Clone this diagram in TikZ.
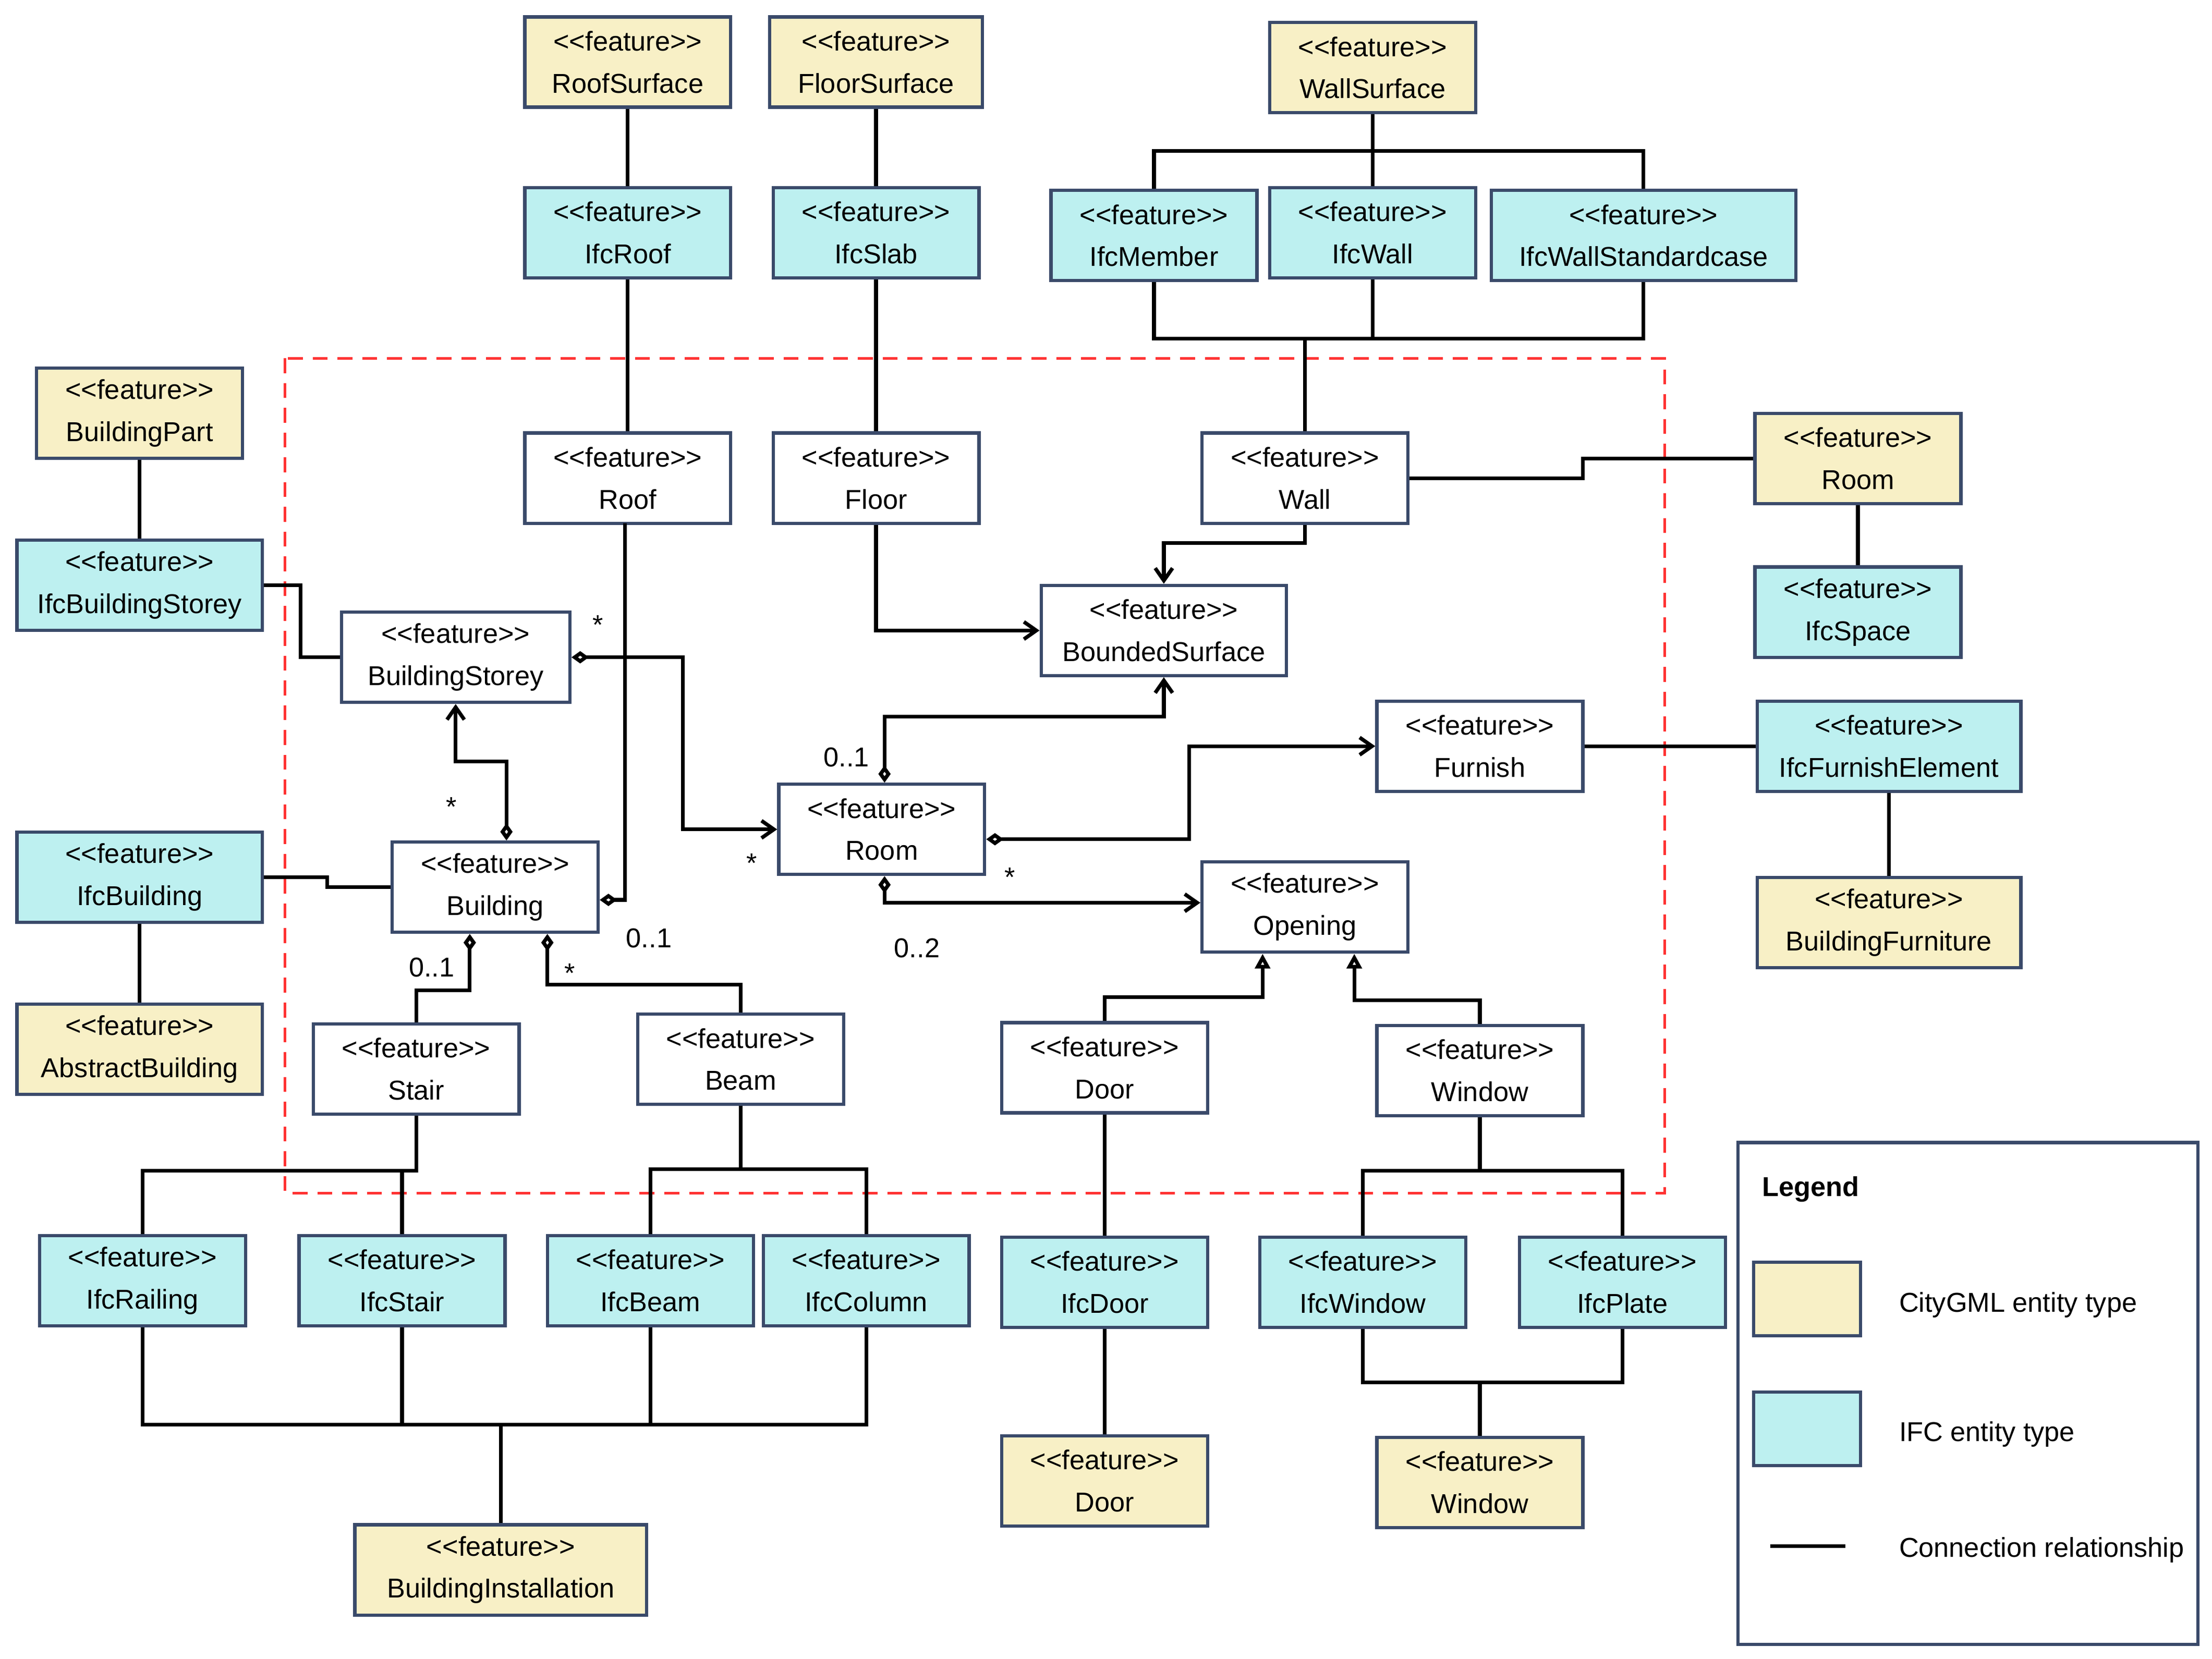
\documentclass[tikz,border=0pt]{standalone}
\usepackage{fontspec}
\setmainfont{Liberation Sans}
\usetikzlibrary{arrows.meta,calc}
\definecolor{cgy}{HTML}{F8F0C6}
\definecolor{ifc}{HTML}{BDF0F0}
\definecolor{bd}{HTML}{3A4A6A}
\tikzset{
 dia/.tip={Diamond[open,length=7pt,width=5pt]},
 nv/.tip={Straight Barb[length=5pt,width=7pt]},
 bx/.style={draw=bd,line width=1.3pt,minimum height=1.28cm,minimum width=2.92cm,align=center,inner sep=1pt,font=\fontsize{11}{17}\selectfont},
 cg/.style={bx,fill=cgy},
 ic/.style={bx,fill=ifc},
 wt/.style={bx,fill=white},
 ln/.style={line width=1.5pt,black},
 nav/.style={ln,-{nv}},
 dnav/.style={ln,{dia}-{nv}},
 dln/.style={ln,{dia}-},
 gen/.style={ln,-{Triangle[open,length=6pt,width=6pt]}},
 lb/.style={font=\fontsize{11}{13}\selectfont}
}
\newcommand{\ft}[1]{<{}<feature>{}>\\#1}
\begin{document}
\begin{tikzpicture}[x=0.02cm,y=-0.02cm]
\useasboundingbox (0,0) rectangle (1568,1176);
\draw[red!80,line width=1pt,dash pattern=on 6pt off 4pt] (202,254) rectangle (1180,846);
% CityGML
\node[cg] (RoofSurface) at (445,44) {\ft{RoofSurface}};
\node[cg,minimum width=3.02cm] (FloorSurface) at (621,44) {\ft{FloorSurface}};
\node[cg] (WallSurface) at (973,48) {\ft{WallSurface}};
\node[cg] (BuildingPart) at (99,293) {\ft{BuildingPart}};
\node[cg] (RoomY) at (1317,325) {\ft{Room}};
\node[cg,minimum width=3.74cm] (BuildingFurniture) at (1339,654) {\ft{BuildingFurniture}};
\node[cg,minimum width=3.48cm] (AbstractBuilding) at (99,744) {\ft{AbstractBuilding}};
\node[cg] (DoorY) at (783,1050) {\ft{Door}};
\node[cg] (WindowY) at (1049,1051) {\ft{Window}};
\node[cg,minimum width=4.14cm] (BuildingInstallation) at (355,1113) {\ft{BuildingInstallation}};
% IFC
\node[ic] (IfcRoof) at (445,165) {\ft{IfcRoof}};
\node[ic] (IfcSlab) at (621,165) {\ft{IfcSlab}};
\node[ic] (IfcMember) at (818,167) {\ft{IfcMember}};
\node[ic] (IfcWall) at (973,165) {\ft{IfcWall}};
\node[ic,minimum width=4.32cm] (IfcWallStandardcase) at (1165,167) {\ft{IfcWallStandardcase}};
\node[ic,minimum width=3.48cm] (IfcBuildingStorey) at (99,415) {\ft{IfcBuildingStorey}};
\node[ic] (IfcSpace) at (1317,434) {\ft{IfcSpace}};
\node[ic,minimum width=3.74cm] (IfcFurnishElement) at (1339,529) {\ft{IfcFurnishElement}};
\node[ic,minimum width=3.48cm] (IfcBuilding) at (99,622) {\ft{IfcBuilding}};
\node[ic] (IfcRailing) at (101,908) {\ft{IfcRailing}};
\node[ic] (IfcStair) at (285,908) {\ft{IfcStair}};
\node[ic] (IfcBeam) at (461,908) {\ft{IfcBeam}};
\node[ic] (IfcColumn) at (614,908) {\ft{IfcColumn}};
\node[ic] (IfcDoor) at (783,909) {\ft{IfcDoor}};
\node[ic] (IfcWindow) at (966,909) {\ft{IfcWindow}};
\node[ic] (IfcPlate) at (1150,909) {\ft{IfcPlate}};
% CityGML classes (white)
\node[wt] (Roof) at (445,339) {\ft{Roof}};
\node[wt] (Floor) at (621,339) {\ft{Floor}};
\node[wt] (Wall) at (925,339) {\ft{Wall}};
\node[wt,minimum width=3.48cm] (BoundedSurface) at (825,447) {\ft{BoundedSurface}};
\node[wt,minimum width=3.24cm] (BuildingStorey) at (323,466) {\ft{BuildingStorey}};
\node[wt] (Furnish) at (1049,529) {\ft{Furnish}};
\node[wt] (Room) at (625,588) {\ft{Room}};
\node[wt] (Building) at (351,629) {\ft{Building}};
\node[wt] (Opening) at (925,643) {\ft{Opening}};
\node[wt] (Stair) at (295,758) {\ft{Stair}};
\node[wt] (Beam) at (525,751) {\ft{Beam}};
\node[wt] (Door) at (783,757) {\ft{Door}};
\node[wt] (Window) at (1049,759) {\ft{Window}};
% legend
\node[draw=bd,line width=1.3pt,minimum width=6.52cm,minimum height=7.12cm] (Legend) at (1395,988) {};
\node[font=\bfseries\fontsize{11}{13}\selectfont,anchor=west] (LegT) at (1243,843) {Legend};
\node[draw=bd,line width=1.3pt,fill=cgy,minimum width=1.52cm,minimum height=1.04cm] (LegY) at (1281,921) {};
\node[draw=bd,line width=1.3pt,fill=ifc,minimum width=1.52cm,minimum height=1.04cm] (LegC) at (1281,1013) {};
\coordinate (LA) at (1255,1096); \coordinate (LB) at (1308,1096);
\draw[ln] (LA) -- (LB);
\node[lb,anchor=west] (LT1) at (1340,925) {CityGML entity type};
\node[lb,anchor=west] (LT2) at (1340,1017) {IFC entity type};
\node[lb,anchor=west] (LT3) at (1340,1099) {Connection relationship};
% connections
\draw[ln] (RoofSurface) -- (IfcRoof);
\draw[ln] (IfcRoof) -- (Roof);
\draw[dln] (Building.east |- 0,638) -- (443,638) -- (443,371) -- (Roof.south -| 443,0);
\draw[ln] (FloorSurface) -- (IfcSlab) -- (Floor);
\draw[nav] (Floor.south) -- (621,447) -- (BoundedSurface.west);
\draw[ln] (WallSurface.south) -- (973,107) -- (IfcWall.north);
\draw[ln] (IfcMember.north) -- (818,107) -- (1165,107) -- (IfcWallStandardcase.north);
\draw[ln] (IfcMember.south) -- (818,240) -- (1165,240) -- (IfcWallStandardcase.south);
\draw[ln] (IfcWall.south) -- (973,240);
\draw[ln] (925,240) -- (Wall.north);
\draw[ln] (Wall.east) -- (1122,339) -- (1122,325) -- (RoomY.west);
\draw[nav] (Wall.south) -- (925,385) -- (825,385) -- (BoundedSurface.north);
\draw[ln] (RoomY) -- (IfcSpace);
\draw[ln] (BuildingPart) -- (IfcBuildingStorey);
\draw[ln] (IfcBuildingStorey.east) -- (213,415) -- (213,466) -- (BuildingStorey.west);
\draw[dnav] (BuildingStorey.east) -- (484,466) -- (484,588) -- (Room.west);
\draw[dnav] (Building.north -| 359,0) -- (359,540) -- (323,540) -- (BuildingStorey.south);
\draw[ln] (IfcBuilding.east) -- (232,622) -- (232,629) -- (Building.west);
\draw[ln] (IfcBuilding) -- (AbstractBuilding);
\draw[dnav] (Room.north -| 627,0) -- (627,508) -- (825,508) -- (BoundedSurface.south);
\draw[dnav] (Room.east |- 0,595) -- (843,595) -- (843,529) -- (Furnish.west);
\draw[dnav] (Room.south -| 627,0) -- (627,640) -- (Opening.west |- 0,640);
\draw[ln] (Furnish) -- (IfcFurnishElement);
\draw[ln] (IfcFurnishElement) -- (BuildingFurniture);
\draw[dln] (Building.south -| 333,0) -- (333,702) -- (295,702) -- (Stair.north);
\draw[dln] (Building.south -| 388,0) -- (388,698) -- (525,698) -- (Beam.north);
\draw[gen] (Door.north) -- (783,707) -- (895,707) -- (Opening.south -| 895,0);
\draw[gen] (Window.north) -- (1049,709) -- (960,709) -- (Opening.south -| 960,0);
\draw[ln] (Stair.south) -- (295,830) -- (101,830) -- (IfcRailing.north);
\draw[ln] (285,830) -- (IfcStair.north);
\draw[ln] (Beam.south) -- (525,829) -- (461,829) -- (IfcBeam.north);
\draw[ln] (525,829) -- (614,829) -- (IfcColumn.north);
\draw[ln] (IfcRailing.south) -- (101,1010) -- (614,1010) -- (IfcColumn.south);
\draw[ln] (IfcStair.south) -- (285,1010);
\draw[ln] (IfcBeam.south) -- (461,1010);
\draw[ln] (355,1010) -- (BuildingInstallation.north);
\draw[ln] (Door) -- (IfcDoor) -- (DoorY);
\draw[ln] (Window.south) -- (1049,830) -- (966,830) -- (IfcWindow.north);
\draw[ln] (1049,830) -- (1150,830) -- (IfcPlate.north);
\draw[ln] (IfcWindow.south) -- (966,980) -- (1150,980) -- (IfcPlate.south);
\draw[ln] (1049,980) -- (WindowY.north);
% labels
\node[lb] (l1) at (424,443) {*};
\node[lb] (l2) at (533,612) {*};
\node[lb] (l3) at (320,572) {*};
\node[lb] (l4) at (460,665) {0..1};
\node[lb] (l5) at (600,537) {0..1};
\node[lb] (l6) at (716,622) {*};
\node[lb] (l7) at (650,672) {0..2};
\node[lb] (l8) at (306,686) {0..1};
\node[lb] (l9) at (404,690) {*};
\end{tikzpicture}
\end{document}
